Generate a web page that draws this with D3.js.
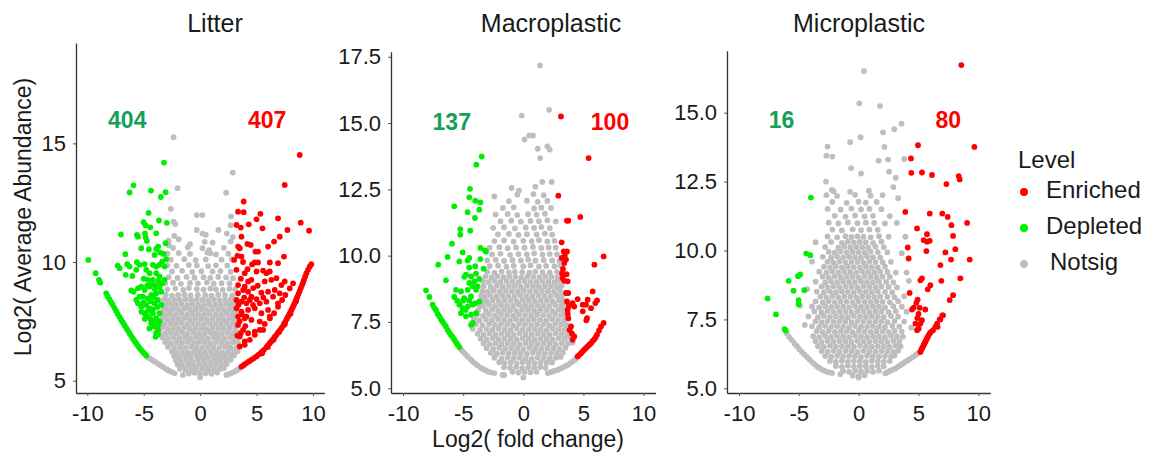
<!DOCTYPE html>
<html><head><meta charset="utf-8">
<script src="https://cdn.jsdelivr.net/npm/d3@7"></script>
<style>body{margin:0;background:#fff}svg{display:block}text{font-family:"Liberation Sans",Arial,sans-serif}</style>
</head><body><svg id="c" width="1153" height="459"></svg>
<script>
const panels = ["Litter","Macroplastic","Microplastic"];
const depletedCounts = [404,137,16];
const enrichedCounts = [407,100,80];
const levels = ["Enriched","Depleted","Notsig"];
const xTicks = [-10,-5,0,5,10];
const yTicksLitter = [5,10,15];
const yTicksMacro = [5,7.5,10,12.5,15,17.5];
const yTicksMicro = [5,7.5,10,12.5,15];

// points as flat x,y lists (log2 fold change, log2 average abundance)
const litterNotsig = [
-4.63,5.99,-4.45,5.93,-4.25,5.87,-4.04,5.81,-3.82,5.74,-3.6,5.67,-3.4,5.61,-3.18,5.54,-2.95,5.47,-2.72,5.41,-2.5,5.36,-2.27,5.31,-1.53,5.24,0.0,5.14,
2.33,5.24,2.55,5.28,2.77,5.32,3.0,5.37,3.22,5.43,3.44,5.5,
-1.0,5.3,-0.5,5.33,0.0,5.28,0.5,5.31,1.0,5.29,1.5,5.34,
-1.8,5.5,-1.3,5.46,-0.8,5.49,-0.3,5.47,0.2,5.5,0.7,5.46,1.2,5.49,1.7,5.48,2.1,5.52,
-2.0,5.68,-1.55,5.64,-1.05,5.67,-0.55,5.65,-0.05,5.68,0.45,5.64,0.95,5.66,1.45,5.68,1.95,5.65,2.35,5.7,
-2.15,5.86,-1.7,5.83,-1.2,5.85,-0.7,5.82,-0.2,5.86,0.3,5.84,0.8,5.83,1.3,5.86,1.8,5.84,2.3,5.85,2.7,5.88,
-2.3,6.04,-1.85,6.0,-1.35,6.03,-0.85,6.01,-0.35,6.04,0.15,6.02,0.65,6.0,1.15,6.03,1.65,6.02,2.15,6.01,2.65,6.04,3.0,6.06,
-2.5,6.22,-2.05,6.19,-1.55,6.21,-1.05,6.18,-0.55,6.22,-0.05,6.2,0.45,6.19,0.95,6.22,1.45,6.2,1.95,6.18,2.45,6.21,2.95,6.2,3.3,6.24,
-2.85,6.42,-2.3,6.38,-1.8,6.41,-1.3,6.39,-0.8,6.42,-0.3,6.4,0.2,6.38,0.7,6.41,1.2,6.4,1.7,6.39,2.2,6.42,2.7,6.4,3.2,6.38,3.45,6.45,
-3.1,6.62,-2.6,6.58,-2.1,6.61,-1.6,6.6,-1.1,6.63,-0.6,6.59,-0.1,6.61,0.4,6.6,0.9,6.58,1.4,6.62,1.9,6.6,2.4,6.59,2.9,6.62,3.35,6.6,
-3.35,6.82,-2.85,6.78,-2.35,6.81,-1.85,6.8,-1.35,6.83,-0.85,6.79,-0.35,6.81,0.15,6.8,0.65,6.78,1.15,6.82,1.65,6.8,2.15,6.79,2.65,6.82,3.15,6.8,
-3.6,7.02,-3.1,6.98,-2.6,7.01,-2.1,7.0,-1.6,7.03,-1.1,6.99,-0.6,7.01,-0.1,7.0,0.4,6.98,0.9,7.02,1.4,7.0,1.9,6.99,2.4,7.02,2.9,7.0,3.3,7.03,
-3.4,7.22,-2.9,7.18,-2.4,7.21,-1.9,7.2,-1.4,7.23,-0.9,7.19,-0.4,7.21,0.1,7.2,0.6,7.18,1.1,7.22,1.6,7.2,2.1,7.19,2.6,7.22,3.1,7.2,
-3.55,7.42,-3.15,7.38,-2.65,7.41,-2.15,7.4,-1.65,7.43,-1.15,7.39,-0.65,7.41,-0.15,7.4,0.35,7.38,0.85,7.42,1.35,7.4,1.85,7.39,2.35,7.42,2.85,7.4,3.25,7.43,
-3.35,7.62,-2.9,7.58,-2.4,7.61,-1.9,7.6,-1.4,7.63,-0.9,7.59,-0.4,7.61,0.1,7.6,0.6,7.58,1.1,7.62,1.6,7.6,2.1,7.59,2.6,7.62,3.05,7.6,
-3.45,7.82,-3.1,7.78,-2.65,7.81,-2.15,7.8,-1.65,7.83,-1.15,7.79,-0.65,7.81,-0.15,7.8,0.35,7.78,0.85,7.82,1.35,7.8,1.85,7.79,2.35,7.82,2.85,7.8,3.2,7.83,
-3.25,8.02,-2.85,7.98,-2.4,8.01,-1.9,8.0,-1.4,8.03,-0.9,7.99,-0.4,8.01,0.1,8.0,0.6,7.98,1.1,8.02,1.6,8.0,2.1,7.99,2.6,8.02,3.0,8.0,
-3.35,8.22,-3.05,8.18,-2.6,8.21,-2.15,8.2,-1.65,8.23,-1.15,8.19,-0.65,8.21,-0.15,8.2,0.35,8.18,0.85,8.22,1.35,8.2,1.85,8.19,2.35,8.22,2.8,8.2,3.15,8.23,
-3.2,8.42,-2.8,8.38,-2.3,8.41,-1.8,8.4,-1.3,8.43,-0.8,8.39,-0.3,8.41,0.2,8.4,0.7,8.38,1.2,8.42,1.7,8.4,2.2,8.39,2.7,8.42,3.0,8.4,
-3.05,8.62,-2.5,8.58,-1.95,8.61,-1.4,8.63,-0.85,8.59,-0.2,8.61,0.45,8.6,1.0,8.58,1.6,8.62,2.2,8.6,2.85,8.59,
-2.9,8.85,-2.2,8.88,-1.5,8.83,-1.0,8.9,-0.3,8.86,0.3,8.84,0.9,8.88,1.4,8.85,2.0,8.83,2.6,8.87,3.1,8.85,
-3.1,9.1,-2.4,9.13,-1.7,9.08,-0.9,9.12,-0.2,9.1,0.6,9.14,1.2,9.09,1.9,9.11,2.6,9.1,
-2.8,9.36,-2.0,9.33,-1.2,9.37,-0.5,9.34,0.3,9.36,0.9,9.33,1.6,9.37,2.3,9.35,2.9,9.32,
-2.5,9.6,-1.6,9.63,-0.7,9.58,0.1,9.61,1.1,9.6,1.8,9.62,2.7,9.59,
-2.9,9.86,-2.1,9.84,-1.0,9.87,-0.3,9.85,0.7,9.83,1.4,9.86,2.4,9.85,
-2.6,10.1,-1.4,10.12,-0.4,10.08,0.5,10.11,1.9,10.1,2.8,10.12,
-2.9,10.35,-1.9,10.37,-0.9,10.34,0.9,10.36,1.4,10.32,2.5,10.35,0.65,10.4,
-2.4,10.6,-2.75,10.7,-1.1,10.62,0.2,10.58,0.8,10.5,2.1,10.6,-0.9,10.75,
-1.9,10.96,-2.8,10.9,0.4,10.85,1.1,10.82,2.7,10.86,
-2.3,11.1,0.2,11.2,0.5,11.15,2.36,11.2,2.9,11.05,
-2.36,15.26,2.89,13.77,-2.0,13.11,2.3,12.92,-2.6,12.24,-0.3,11.98,0.2,11.98,2.74,11.92,-2.36,11.7,-2.2,11.6,-0.3,11.35,1.62,11.35,2.7,11.55
];
const litterDepleted = [
-3.21,14.19,-5.9,13.23,-6.25,12.93,-4.36,13.01,-3.06,12.94,-3.48,12.74,-4.57,12.07,-7.02,11.16,-5.01,11.68,-4.83,11.54,-4.42,11.46,-3.65,11.75,-2.95,11.65,-3.89,11.21,-5.6,11.14,-5.51,11.07,-4.89,11.21,-4.72,10.89,-4.83,11.04,
-5.22,10.58,-4.54,10.54,-3.89,10.55,-3.71,10.65,-3.54,10.4,-3.24,10.34,-3.06,10.79,-4.04,10.3,-6.63,10.33,
-7.31,9.85,-7.14,9.74,-6.46,9.91,-6.25,9.81,-6.6,9.46,-6.01,9.41,-5.6,9.99,-5.37,9.88,-5.66,9.67,-4.92,9.91,-4.78,9.67,-4.48,9.53,-4.19,9.88,-3.89,9.81,-3.6,9.88,-3.36,10.02,-3.01,10.12,-3.15,9.81,-3.89,9.53,-3.6,9.39,-3.15,9.25,-4.19,9.25,-4.63,9.25,
-6.1,8.8,-5.9,8.75,-5.51,8.89,-5.22,8.96,-4.92,8.82,-4.48,8.96,-4.04,9.03,-3.6,8.96,-3.36,9.1,-5.37,8.54,-5.66,8.4,-5.07,8.54,-4.63,8.47,-4.33,8.61,-3.89,8.68,-3.45,8.75,
-5.51,8.26,-5.22,8.12,-4.78,8.19,-4.48,8.05,-4.04,8.26,-3.74,8.4,-3.45,8.19,-4.92,7.84,-4.63,7.7,-4.19,7.84,-3.89,7.63,-3.6,7.84,-4.33,7.42,-4.04,7.28,-3.74,7.14,-3.89,7.0,
-4.3,9.1,-4.0,8.85,-3.7,9.2,-4.7,9.0,-5.0,9.3,-4.4,8.35,-4.1,8.5,-3.8,8.1,-4.6,7.95,-4.2,8.0,-3.6,7.5,-4.4,7.6,-4.1,7.5,-3.7,7.35,-4.5,7.2,-3.95,6.85,-3.75,6.95,-5.2,7.9,-5.0,8.3,-4.9,7.6,
-9.91,10.09,-9.26,9.53,-8.96,9.25,-8.85,9.13,-8.32,8.68,-8.2,8.56,-8.05,8.44,-7.9,8.32,-7.75,8.2,-7.6,8.07,-7.45,7.94,-7.3,7.81,-7.15,7.69,-7.0,7.57,-6.85,7.46,-6.7,7.34,-6.55,7.22,-6.4,7.11,-6.25,6.99,-6.1,6.88,-5.95,6.77,-5.8,6.66,-5.65,6.56,-5.5,6.46,-5.35,6.37,-5.2,6.28,-5.05,6.2,-4.9,6.12,-4.78,6.06
];
const litterEnriched = [
8.82,14.51,7.49,13.25,3.86,12.55,3.36,12.12,3.86,12.1,5.34,12.03,3.22,11.56,3.6,11.45,4.31,11.59,4.99,11.8,5.52,11.42,6.9,11.84,8.91,11.66,7.73,11.35,9.65,11.32,
3.66,11.07,4.19,10.76,4.48,10.72,3.36,10.65,3.51,10.58,4.9,10.44,5.13,10.44,6.02,10.65,6.55,10.86,7.05,11.07,7.43,10.23,3.01,10.09,3.3,10.26,3.66,10.23,4.84,9.98,5.13,9.98,6.17,9.98,6.9,9.95,
3.22,9.67,3.95,9.53,4.99,9.6,5.58,9.64,5.87,9.53,6.17,9.6,6.76,9.32,7.49,9.18,4.25,9.18,4.54,9.25,3.36,9.03,3.95,8.96,5.72,9.18,6.31,9.25,7.2,9.03,
3.36,8.68,3.81,8.82,4.25,8.75,4.54,8.54,4.99,8.43,5.43,8.71,6.02,8.75,6.61,8.82,7.05,8.68,3.22,8.4,3.66,8.33,4.1,8.26,4.69,8.19,5.28,8.26,5.87,8.33,6.46,8.54,6.9,8.26,
3.22,8.05,3.66,7.91,4.25,7.98,4.84,8.05,5.43,7.84,6.02,7.98,3.36,7.7,3.95,7.63,4.54,7.56,5.28,7.49,6.17,7.7,3.36,7.35,3.81,7.14,4.25,7.0,4.84,7.07,5.58,7.14,3.51,6.86,3.95,6.65,3.51,6.44,
3.95,6.51,4.4,6.72,4.84,6.93,5.28,7.14,5.72,7.39,6.17,7.63,6.55,7.84,6.9,8.12,7.26,8.4,7.55,8.61,7.94,8.89,8.23,9.1,
3.5,7.5,3.7,7.8,4.0,7.3,3.4,8.2,3.9,8.5,4.4,8.4,3.6,9.3,4.2,9.7,3.8,10.0,4.6,9.9,5.1,9.0,4.7,8.9,5.6,8.5,4.1,7.7,3.3,6.9,3.6,7.0,
3.66,5.59,3.88,5.66,4.1,5.74,4.32,5.81,4.54,5.88,4.77,5.95,4.99,6.02,5.21,6.11,5.43,6.2,5.65,6.3,5.87,6.41,6.02,6.5,6.17,6.58,6.31,6.66,6.46,6.75,6.61,6.84,6.76,6.93,6.9,7.02,7.05,7.11,7.2,7.21,7.35,7.31,7.45,7.4,7.55,7.49,7.67,7.6,7.79,7.7,7.9,7.8,8.02,7.91,8.12,8.01,8.23,8.12,8.33,8.22,8.44,8.33,8.52,8.43,8.61,8.54,8.72,8.66,8.82,8.78,8.92,8.9,9.03,9.03,9.12,9.14,9.2,9.25,9.3,9.38,9.41,9.53,9.56,9.67,9.7,9.8,9.85,9.91,
5.5,6.15,6.0,6.42,6.5,6.72,7.0,7.05,7.5,7.38,8.0,7.82,8.5,8.35
];

const macroNotsig = [
-5.18,6.47,-5.04,6.39,-4.85,6.3,-4.63,6.2,-4.4,6.1,-4.21,6.01,-4.0,5.93,-3.8,5.86,-3.55,5.78,-3.38,5.73,-3.15,5.68,-2.96,5.63,-2.7,5.6,-2.41,5.57,-1.72,5.5,-1.6,5.5,0.0,5.4,
2.03,5.57,2.25,5.6,2.44,5.63,2.65,5.66,2.86,5.69,3.07,5.74,3.27,5.78,3.48,5.83,3.69,5.88,3.9,5.95,4.1,6.01,4.3,6.08,4.4,6.13,
-0.9,5.62,-0.4,5.59,0.1,5.61,0.6,5.6,1.1,5.62,
-1.6,5.79,-1.1,5.77,-0.6,5.8,-0.1,5.76,0.4,5.79,0.9,5.78,1.4,5.8,1.85,5.77,
-2.0,5.98,-1.55,5.95,-1.05,5.97,-0.55,5.94,-0.05,5.98,0.45,5.96,0.95,5.95,1.45,5.98,1.95,5.96,2.4,5.97,
-2.4,6.15,-1.8,6.12,-1.3,6.16,-0.8,6.13,-0.3,6.15,0.2,6.14,0.7,6.12,1.2,6.16,1.7,6.14,2.2,6.13,2.7,6.15,3.1,6.18,
-2.7,6.33,-2.2,6.3,-1.7,6.34,-1.2,6.31,-0.7,6.33,-0.2,6.32,0.3,6.3,0.8,6.34,1.3,6.32,1.8,6.31,2.3,6.33,2.8,6.32,3.3,6.34,
-3.05,6.51,-2.5,6.48,-2.0,6.52,-1.5,6.49,-1.0,6.51,-0.5,6.5,0.0,6.48,0.5,6.52,1.0,6.5,1.5,6.49,2.0,6.51,2.5,6.5,3.0,6.48,3.5,6.53,
-3.3,6.69,-2.8,6.66,-2.3,6.7,-1.8,6.67,-1.3,6.69,-0.8,6.68,-0.3,6.66,0.2,6.7,0.7,6.68,1.2,6.67,1.7,6.69,2.2,6.68,2.7,6.66,3.2,6.7,3.7,6.68,4.1,6.72,
-3.55,6.87,-3.05,6.84,-2.55,6.88,-2.05,6.85,-1.55,6.87,-1.05,6.86,-0.55,6.84,-0.05,6.88,0.45,6.86,0.95,6.85,1.45,6.87,1.95,6.86,2.45,6.84,2.95,6.88,3.45,6.86,3.9,6.9,
-3.8,7.05,-3.3,7.02,-2.8,7.06,-2.3,7.03,-1.8,7.05,-1.3,7.04,-0.8,7.02,-0.3,7.06,0.2,7.04,0.7,7.03,1.2,7.05,1.7,7.04,2.2,7.02,2.7,7.06,3.2,7.04,3.7,7.03,4.05,7.08,
-4.2,7.24,-3.6,7.2,-3.05,7.23,-2.55,7.21,-2.05,7.24,-1.55,7.22,-1.05,7.2,-0.55,7.24,-0.05,7.22,0.45,7.21,0.95,7.23,1.45,7.22,1.95,7.2,2.45,7.24,2.95,7.22,3.45,7.21,3.9,7.25,
-3.95,7.41,-3.4,7.38,-2.85,7.42,-2.35,7.39,-1.85,7.41,-1.35,7.4,-0.85,7.38,-0.35,7.42,0.15,7.4,0.65,7.39,1.15,7.41,1.65,7.4,2.15,7.38,2.65,7.42,3.15,7.4,3.6,7.39,
-4.1,7.6,-3.65,7.56,-3.1,7.59,-2.6,7.57,-2.1,7.6,-1.6,7.58,-1.1,7.56,-0.6,7.6,-0.1,7.58,0.4,7.57,0.9,7.59,1.4,7.58,1.9,7.56,2.4,7.6,2.9,7.58,3.4,7.57,3.75,7.62,
-3.85,7.77,-3.35,7.74,-2.85,7.78,-2.35,7.75,-1.85,7.77,-1.35,7.76,-0.85,7.74,-0.35,7.78,0.15,7.76,0.65,7.75,1.15,7.77,1.65,7.76,2.15,7.74,2.65,7.78,3.15,7.76,3.55,7.75,
-3.75,7.95,-3.1,7.92,-2.6,7.96,-2.1,7.93,-1.6,7.95,-1.1,7.94,-0.6,7.92,-0.1,7.96,0.4,7.94,0.9,7.93,1.4,7.95,1.9,7.94,2.4,7.92,2.9,7.96,3.35,7.94,
-3.6,8.13,-3.35,8.1,-2.85,8.14,-2.35,8.11,-1.85,8.13,-1.35,8.12,-0.85,8.1,-0.35,8.14,0.15,8.12,0.65,8.11,1.15,8.13,1.65,8.12,2.15,8.1,2.65,8.14,3.15,8.12,3.45,8.15,
-3.45,8.31,-3.05,8.28,-2.55,8.32,-2.05,8.29,-1.55,8.31,-1.05,8.3,-0.55,8.28,-0.05,8.32,0.45,8.3,0.95,8.29,1.45,8.31,1.95,8.3,2.45,8.28,2.95,8.32,3.3,8.3,
-3.5,8.49,-3.2,8.46,-2.75,8.5,-2.25,8.47,-1.75,8.49,-1.25,8.48,-0.75,8.46,-0.25,8.5,0.25,8.48,0.75,8.47,1.25,8.49,1.75,8.48,2.25,8.46,2.75,8.5,3.2,8.48,
-3.4,8.67,-2.95,8.64,-2.45,8.68,-1.95,8.65,-1.45,8.67,-0.95,8.66,-0.45,8.64,0.05,8.68,0.55,8.66,1.05,8.65,1.55,8.67,2.05,8.66,2.55,8.64,3.05,8.68,
-3.3,8.85,-2.7,8.82,-2.2,8.86,-1.7,8.83,-1.2,8.85,-0.7,8.84,-0.2,8.82,0.3,8.86,0.8,8.84,1.3,8.83,1.8,8.85,2.3,8.84,2.8,8.82,3.2,8.86,
-3.35,9.03,-2.9,9.0,-2.4,9.04,-1.9,9.01,-1.4,9.03,-0.9,9.02,-0.4,9.0,0.1,9.04,0.6,9.02,1.1,9.01,1.6,9.03,2.1,9.02,2.6,9.0,3.0,9.04,
-3.15,9.21,-2.65,9.18,-2.15,9.22,-1.65,9.19,-1.15,9.21,-0.65,9.2,-0.15,9.18,0.35,9.22,0.85,9.2,1.35,9.19,1.85,9.21,2.35,9.2,2.85,9.18,3.2,9.22,
-3.0,9.39,-2.4,9.36,-1.8,9.4,-1.2,9.37,-0.7,9.39,-0.1,9.38,0.5,9.36,1.0,9.4,1.6,9.38,2.2,9.37,2.8,9.39,
-2.8,9.6,-2.1,9.62,-1.4,9.58,-0.8,9.61,0.0,9.6,0.6,9.63,1.3,9.59,1.9,9.61,2.6,9.6,3.1,9.62,
-3.0,9.82,-2.3,9.84,-1.6,9.8,-0.9,9.83,-0.2,9.82,0.4,9.85,1.0,9.81,1.7,9.83,2.4,9.82,3.0,9.8,
-2.6,10.05,-1.9,10.07,-1.1,10.03,-0.4,10.06,0.3,10.05,0.9,10.08,1.6,10.04,2.2,10.06,2.8,10.05,
-2.8,10.3,-2.0,10.32,-1.3,10.28,-0.6,10.31,0.1,10.3,0.8,10.33,1.5,10.29,2.1,10.31,2.7,10.3,
-2.4,10.55,-1.6,10.57,-0.8,10.53,0.0,10.56,0.7,10.55,1.3,10.58,2.0,10.54,2.6,10.56,
-2.1,10.8,-1.2,10.82,-0.4,10.78,0.3,10.81,1.1,10.8,1.8,10.83,2.4,10.79,
-2.5,11.05,-1.6,11.07,-0.7,11.03,0.2,11.06,0.9,11.05,1.5,11.08,2.2,11.04,
-1.9,11.3,-1.0,11.32,-0.2,11.28,0.6,11.31,1.3,11.3,2.0,11.33,2.7,11.29,
-2.3,11.55,-1.3,11.57,-0.5,11.53,0.4,11.56,1.1,11.55,1.8,11.58,
-1.7,11.8,-0.8,11.82,0.9,11.78,1.5,11.81,2.3,11.8,
-1.2,12.05,0.3,12.07,1.2,12.03,2.0,12.06,
-2.41,12.23,-0.5,12.3,0.84,12.32,1.7,12.28,
-0.97,12.55,-0.36,12.45,1.0,12.6,1.58,12.78,2.36,12.78,
1.39,17.17,-0.13,15.28,2.14,15.5,0.1,14.38,0.5,14.53,0.8,14.53,1.2,14.03,2.0,14.12,2.2,14.0,1.4,13.68
];
const macroDepleted = [
-3.46,13.74,-3.91,13.43,-4.43,12.52,-4.49,12.2,-3.99,12.07,-3.57,12.01,-5.74,11.86,-4.63,11.64,-3.66,11.73,-4.02,11.42,-5.24,11.0,-4.41,10.94,-5.24,10.79,-5.93,10.45,-6.29,9.95,-7.07,9.66,-5.32,9.78,-5.04,10.12,-4.49,9.91,-4.63,9.82,-3.57,10.29,-3.1,10.16,-3.19,10.2,-3.57,9.87,-3.3,9.51,
-6.43,9.07,-4.77,9.28,-4.35,9.22,-3.93,9.32,-3.66,9.12,-4.07,9.03,-4.49,8.97,-4.21,8.84,-3.8,8.84,-4.63,8.71,-3.93,8.71,-5.6,8.71,-5.18,8.65,-5.74,8.44,-4.91,8.4,-4.35,8.46,-3.66,8.27,-5.32,8.15,-5.04,8.02,-4.63,8.08,-4.21,8.15,-5.18,7.83,-4.77,7.71,-4.35,7.77,-3.93,7.83,-4.35,7.39,-4.21,7.46,
-4.9,9.2,-4.5,9.55,-4.0,9.6,-5.0,8.3,-4.5,8.3,-4.0,8.2,-4.8,7.95,-5.5,8.3,
-8.09,8.69,-7.81,8.44,-7.54,8.15,-7.4,8.03,-7.26,7.94,-7.12,7.8,-6.98,7.71,-6.85,7.6,-6.71,7.52,-6.57,7.42,-6.43,7.33,-6.29,7.2,-6.15,7.1,-6.0,7.0,-5.87,6.93,-5.73,6.83,-5.6,6.73,-5.46,6.64,-5.32,6.55
];
const macroEnriched = [
3.13,15.25,5.43,13.68,2.91,12.26,4.74,11.46,3.63,11.32,3.74,11.32,3.19,10.5,3.36,10.16,3.63,10.16,3.19,9.91,3.41,9.72,3.55,9.85,6.68,9.97,5.91,9.66,3.22,9.34,3.27,9.15,3.41,9.05,3.69,9.03,5.77,8.65,3.55,8.59,3.74,8.59,3.63,8.27,4.1,8.21,4.52,8.36,4.24,8.08,4.94,8.15,5.21,8.15,5.35,8.34,6.13,8.31,5.99,8.21,4.94,7.9,5.63,8.02,3.69,7.96,3.74,7.64,5.3,7.64,5.24,7.56,3.97,7.33,4.24,6.95,4.1,6.83,3.3,9.5,3.45,10.0,3.6,9.3,3.8,8.1,3.7,7.8,3.85,7.2,4.05,7.05,
4.52,6.2,4.66,6.26,4.8,6.32,4.94,6.39,5.07,6.45,5.21,6.52,5.35,6.58,5.49,6.64,5.63,6.7,5.77,6.78,5.91,6.85,6.02,6.93,6.13,7.02,6.3,7.18,6.46,7.33,6.68,7.46
];

const microNotsig = [
-5.99,6.99,-5.8,6.86,-5.58,6.75,-5.37,6.63,-5.16,6.53,-4.95,6.42,-4.74,6.32,-4.53,6.23,-4.32,6.14,-4.11,6.05,-3.9,5.96,-3.7,5.88,-3.49,5.8,-3.28,5.74,-3.07,5.68,-2.86,5.64,-2.65,5.6,-2.44,5.58,-2.23,5.56,-1.53,5.51,0.0,5.39,
2.23,5.54,2.44,5.59,2.65,5.64,2.86,5.68,3.07,5.72,3.28,5.78,3.48,5.84,3.69,5.9,3.9,5.96,4.11,6.02,4.32,6.08,4.53,6.14,4.74,6.2,4.88,6.25,5.02,6.29,
-0.5,5.46,0.0,5.44,0.5,5.47,
-1.3,5.63,-0.8,5.6,-0.3,5.64,0.2,5.61,0.7,5.63,1.2,5.6,1.7,5.64,
-1.9,5.81,-1.4,5.78,-0.9,5.82,-0.4,5.79,0.1,5.81,0.6,5.8,1.1,5.78,1.6,5.82,2.1,5.8,
-2.4,5.99,-1.9,5.96,-1.4,6.0,-0.9,5.97,-0.4,5.99,0.1,5.98,0.6,5.96,1.1,6.0,1.6,5.98,2.1,5.97,2.6,5.99,
-2.8,6.17,-2.3,6.14,-1.8,6.18,-1.3,6.15,-0.8,6.17,-0.3,6.16,0.2,6.14,0.7,6.18,1.2,6.16,1.7,6.15,2.2,6.17,2.7,6.16,3.0,6.19,
-3.1,6.35,-2.6,6.32,-2.1,6.36,-1.6,6.33,-1.1,6.35,-0.6,6.34,-0.1,6.32,0.4,6.36,0.9,6.34,1.4,6.33,1.9,6.35,2.4,6.34,2.9,6.32,3.3,6.36,
-3.4,6.53,-2.9,6.5,-2.4,6.54,-1.9,6.51,-1.4,6.53,-0.9,6.52,-0.4,6.5,0.1,6.54,0.6,6.52,1.1,6.51,1.6,6.53,2.1,6.52,2.6,6.5,3.1,6.54,3.5,6.52,
-3.6,6.71,-3.1,6.68,-2.6,6.72,-2.1,6.69,-1.6,6.71,-1.1,6.7,-0.6,6.68,-0.1,6.72,0.4,6.7,0.9,6.69,1.4,6.71,1.9,6.7,2.4,6.68,2.9,6.72,3.4,6.7,
-3.8,6.89,-3.3,6.86,-2.8,6.9,-2.3,6.87,-1.8,6.89,-1.3,6.88,-0.8,6.86,-0.3,6.9,0.2,6.88,0.7,6.87,1.2,6.89,1.7,6.88,2.2,6.86,2.7,6.9,3.2,6.88,3.7,6.87,
-3.5,7.07,-3.0,7.04,-2.5,7.08,-2.0,7.05,-1.5,7.07,-1.0,7.06,-0.5,7.04,0.0,7.08,0.5,7.06,1.0,7.05,1.5,7.07,2.0,7.06,2.5,7.04,3.0,7.08,3.6,7.06,
-3.9,7.25,-3.3,7.22,-2.8,7.26,-2.3,7.23,-1.8,7.25,-1.3,7.24,-0.8,7.22,-0.3,7.26,0.2,7.24,0.7,7.23,1.2,7.25,1.7,7.24,2.2,7.22,2.8,7.26,3.4,7.24,
-3.6,7.43,-3.1,7.4,-2.6,7.44,-2.1,7.41,-1.6,7.43,-1.1,7.42,-0.6,7.4,-0.1,7.44,0.4,7.42,0.9,7.41,1.4,7.43,1.9,7.42,2.4,7.4,3.0,7.44,3.8,7.42,
-4.2,7.61,-3.4,7.58,-2.9,7.62,-2.4,7.59,-1.9,7.61,-1.4,7.6,-0.9,7.58,-0.4,7.62,0.1,7.6,0.6,7.59,1.1,7.61,1.6,7.6,2.1,7.58,2.7,7.62,3.3,7.6,
-3.7,7.79,-3.1,7.76,-2.6,7.8,-2.1,7.77,-1.6,7.79,-1.1,7.78,-0.6,7.76,-0.1,7.8,0.4,7.78,0.9,7.77,1.4,7.79,1.9,7.78,2.5,7.76,3.1,7.8,4.0,7.78,
-3.9,7.97,-3.3,7.94,-2.8,7.98,-2.3,7.95,-1.8,7.97,-1.3,7.96,-0.8,7.94,-0.3,7.98,0.2,7.96,0.7,7.95,1.2,7.97,1.7,7.96,2.2,7.94,2.9,7.98,3.6,7.96,
-3.6,8.15,-3.0,8.12,-2.5,8.16,-2.0,8.13,-1.5,8.15,-1.0,8.14,-0.5,8.12,0.0,8.16,0.5,8.14,1.0,8.13,1.5,8.15,2.0,8.14,2.6,8.12,3.3,8.16,
-3.2,8.33,-2.7,8.3,-2.2,8.34,-1.7,8.31,-1.2,8.33,-0.7,8.32,-0.2,8.3,0.3,8.34,0.8,8.32,1.3,8.31,1.8,8.33,2.4,8.32,3.0,8.3,3.8,8.34,
-3.5,8.51,-2.9,8.48,-2.4,8.52,-1.9,8.49,-1.4,8.51,-0.9,8.5,-0.4,8.48,0.1,8.52,0.6,8.5,1.1,8.49,1.6,8.51,2.2,8.5,2.8,8.48,
-3.1,8.69,-2.6,8.66,-2.1,8.7,-1.6,8.67,-1.1,8.69,-0.6,8.68,-0.1,8.66,0.4,8.7,0.9,8.68,1.4,8.67,1.9,8.69,2.5,8.68,3.2,8.66,
-3.6,8.87,-2.8,8.84,-2.3,8.88,-1.8,8.85,-1.3,8.87,-0.8,8.86,-0.3,8.84,0.2,8.88,0.7,8.86,1.2,8.85,1.7,8.87,2.3,8.86,2.9,8.84,
-3.0,9.05,-2.5,9.02,-2.0,9.06,-1.5,9.03,-1.0,9.05,-0.5,9.04,0.0,9.02,0.5,9.06,1.0,9.04,1.5,9.03,2.0,9.05,2.6,9.04,
-3.3,9.23,-2.7,9.2,-2.2,9.24,-1.7,9.21,-1.2,9.23,-0.7,9.22,-0.2,9.2,0.3,9.24,0.8,9.22,1.3,9.21,1.8,9.23,2.4,9.22,3.1,9.2,
-2.9,9.41,-2.4,9.38,-1.9,9.42,-1.4,9.39,-0.9,9.41,-0.4,9.4,0.1,9.38,0.6,9.42,1.1,9.4,1.6,9.39,2.2,9.41,
-2.6,9.59,-2.1,9.56,-1.6,9.6,-1.1,9.57,-0.6,9.59,-0.1,9.58,0.4,9.56,0.9,9.6,1.4,9.58,2.0,9.57,2.7,9.59,
-3.0,9.77,-2.3,9.74,-1.8,9.78,-1.3,9.75,-0.8,9.77,-0.3,9.76,0.2,9.74,0.7,9.78,1.2,9.76,1.8,9.75,
-2.5,9.95,-2.0,9.92,-1.5,9.96,-1.0,9.93,-0.5,9.95,0.0,9.94,0.5,9.92,1.0,9.96,1.6,9.94,2.4,9.93,
-2.8,10.13,-1.7,10.1,-1.2,10.14,-0.7,10.11,-0.2,10.13,0.3,10.12,0.8,10.1,1.4,10.14,2.1,10.12,
-2.3,10.31,-1.4,10.28,-0.9,10.32,-0.4,10.29,0.1,10.31,0.6,10.3,1.2,10.28,1.9,10.32,
-2.6,10.51,-1.8,10.48,-1.1,10.52,-0.6,10.49,-0.1,10.51,0.4,10.5,1.0,10.48,1.7,10.52,2.5,10.5,
-2.2,10.76,-1.4,10.73,-0.5,10.77,0.2,10.74,0.9,10.76,1.6,10.75,
-2.5,11.01,-1.7,10.98,-0.9,11.02,-0.1,10.99,0.6,11.01,1.3,11.0,2.2,10.98,
-2.0,11.26,-1.1,11.23,-0.3,11.27,0.5,11.24,1.2,11.26,2.6,11.25,
-2.6,11.51,-1.5,11.48,-0.6,11.52,0.2,11.49,0.9,11.51,1.9,11.5,
-2.2,11.76,-1.0,11.73,0.0,11.77,0.6,11.74,1.5,11.76,
-2.7,12.01,-1.8,11.98,-0.3,12.02,1.0,11.99,2.0,12.01,
0.44,16.51,0.05,15.34,1.78,15.24,3.58,14.6,2.97,14.4,2.04,14.29,0.16,14.11,-0.71,13.93,-2.6,13.77,-2.7,13.44,-2.2,13.41,2.15,13.76,2.46,13.3,1.67,13.26,3.81,13.32,-0.63,12.99,0.2,12.79,2.54,12.86,3.1,12.64,-2.73,12.5,-2.23,12.2,-2.09,12.15,-0.71,12.13,0.85,12.17,2.9,12.3,3.3,11.9,3.2,11.0,3.9,10.5,3.6,9.9,4.0,9.2,4.2,8.9,4.4,7.2,-4.9,8.0,-4.3,8.6,-3.9,9.6,-3.6,10.3,-4.5,7.3
];
const microDepleted = [
-3.99,11.92,-4.38,9.89,-4.04,9.83,-5.07,9.07,-4.88,9.13,-5.85,8.9,-5.44,8.54,-4.54,8.56,-5.02,8.2,-5.02,8.05,-7.61,8.26,-6.91,7.68,-6.19,7.15,-6.1,7.1
];
const microEnriched = [
8.58,16.73,9.67,13.76,4.96,13.82,4.37,13.34,4.4,12.82,5.29,12.83,6.13,12.74,7.33,12.41,8.36,12.7,8.44,12.58,3.9,11.4,5.94,11.34,6.99,11.34,7.44,11.22,9.06,11.0,7.75,10.92,4.88,10.8,5.71,10.59,5.43,10.38,5.71,10.32,5.94,10.35,7.89,10.53,4.1,10.11,5.66,9.98,7.25,9.93,8.08,10.05,4.18,9.71,7.72,9.67,9.28,9.67,6.83,9.47,5.29,8.99,5.16,8.92,5.99,8.74,5.77,8.59,6.91,8.9,8.5,8.99,4.26,8.46,4.93,8.22,4.82,8.1,4.6,7.93,4.46,7.86,5.1,7.92,5.57,7.86,7.89,8.38,7.61,8.2,7.05,7.65,6.83,7.5,6.6,7.23,5.29,7.47,5.16,7.35,5.02,7.17,4.88,7.11,4.75,7.35,4.9,7.55,5.0,7.7,
5.16,6.32,5.24,6.4,5.29,6.45,5.36,6.5,5.43,6.57,5.5,6.63,5.57,6.69,5.64,6.75,5.71,6.81,5.78,6.87,5.85,6.93,5.95,7.0,6.05,7.05,6.21,7.11,6.41,7.23,6.55,7.35,6.77,7.5,6.99,7.65
];

const colors = {Enriched:"#ff0000", Depleted:"#00ee00", Notsig:"#bebebe"};
const series = [
  {Notsig:litterNotsig, Depleted:litterDepleted, Enriched:litterEnriched},
  {Notsig:macroNotsig, Depleted:macroDepleted, Enriched:macroEnriched},
  {Notsig:microNotsig, Depleted:microDepleted, Enriched:microEnriched}
];
const yTicksAll = [yTicksLitter, yTicksMacro, yTicksMicro];

// layout (pixels) and axis limits
const frames = [
  {l:76, r:324.3, t:43, b:393, ydom:[4.48,19.23], tx:215, lab:[[-6.46,16.0],[5.93,16.0]], fmt:d=>String(d)},
  {l:391, r:655.6, t:51.7, b:393, ydom:[4.82,17.69], tx:551, lab:[[-5.95,15.05],[7.21,15.05]], fmt:d=>d.toFixed(1)},
  {l:727, r:990.3, t:50.7, b:393, ydom:[4.83,17.25], tx:859, lab:[[-6.44,14.75],[7.49,14.75]], fmt:d=>d.toFixed(1)}
];

function pairs(a){const o=[];for(let i=0;i<a.length;i+=2)o.push([a[i],a[i+1]]);return o;}

const svg = d3.select("#c");
const ink = "#1a1a1a";

frames.forEach((f,i)=>{
  const x = d3.scaleLinear().domain([-11,11]).range([f.l,f.r]);
  const y = d3.scaleLinear().domain(f.ydom).range([f.b,f.t]);
  const g = svg.append("g");
  ["Notsig","Depleted","Enriched"].forEach(k=>{
    g.append("g").selectAll("circle").data(pairs(series[i][k])).join("circle")
      .attr("cx",d=>x(d[0])).attr("cy",d=>y(d[1])).attr("r",2.9).attr("fill",colors[k]);
  });
  const xa = g.append("g").attr("transform",`translate(0,${f.b})`)
    .call(d3.axisBottom(x).tickValues(xTicks).tickSize(3).tickSizeOuter(0).tickPadding(9).tickFormat(d=>String(d)));
  const ya = g.append("g").attr("transform",`translate(${f.l},0)`)
    .call(d3.axisLeft(y).tickValues(yTicksAll[i]).tickSize(3).tickSizeOuter(0).tickPadding(7).tickFormat(f.fmt));
  [xa,ya].forEach(a=>{
    a.select(".domain").attr("stroke","#333").attr("stroke-width",1.3);
    a.selectAll(".tick line").attr("stroke","#555");
    a.selectAll(".tick text").attr("font-size",22).attr("fill",ink).attr("font-family",'"Liberation Sans",Arial,sans-serif');
  });
  svg.append("text").attr("x",f.tx).attr("y",32).attr("text-anchor","middle")
    .attr("font-size",25).attr("fill",ink).text(panels[i]);
  svg.append("text").attr("x",x(f.lab[0][0])).attr("y",y(f.lab[0][1])).attr("dy","0.36em")
    .attr("text-anchor","middle").attr("font-size",23).attr("font-weight","bold").attr("fill","#14a058").text(depletedCounts[i]);
  svg.append("text").attr("x",x(f.lab[1][0])).attr("y",y(f.lab[1][1])).attr("dy","0.36em")
    .attr("text-anchor","middle").attr("font-size",23).attr("font-weight","bold").attr("fill","#ff0000").text(enrichedCounts[i]);
});

svg.append("text").attr("transform","translate(31,217) rotate(-90)").attr("text-anchor","middle")
  .attr("font-size",23).attr("fill",ink).text("Log2( Average Abundance)");
svg.append("text").attr("x",528).attr("y",447).attr("text-anchor","middle")
  .attr("font-size",23).attr("fill",ink).text("Log2( fold change)");

// legend
const lg = svg.append("g");
lg.append("text").attr("x",1018).attr("y",168).attr("font-size",24).attr("fill",ink).text("Level");
const legY = [192,228,264], legTx = [1046,1046,1050];
levels.forEach((k,j)=>{
  lg.append("circle").attr("cx",1024).attr("cy",legY[j]).attr("r",4).attr("fill",colors[k]);
  lg.append("text").attr("x",legTx[j]).attr("y",legY[j]+6).attr("font-size",24).attr("fill",ink).text(k);
});
</script>
</body></html>
